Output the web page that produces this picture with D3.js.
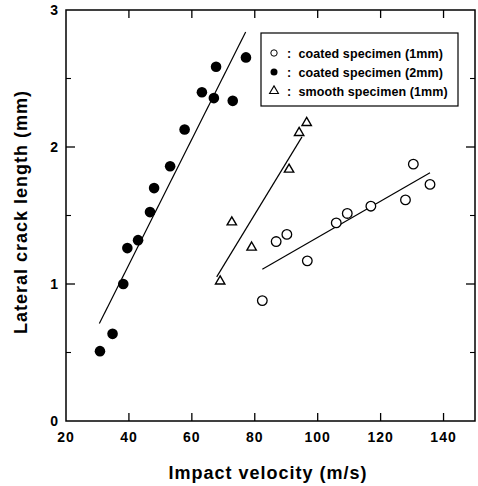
<!DOCTYPE html>
<html>
<head>
<meta charset="UTF-8" />
<title>Lateral crack length vs impact velocity</title>
<script src="https://d3js.org/d3.v7.min.js"></script>
<style>
  body { margin: 0; background: #fff; }
  svg { display: block; font-family: "Liberation Sans", Arial, sans-serif; font-weight: bold; }
</style>
</head>
<body>
<svg id="chart"></svg>
<script>
// coated specimen (2mm) - filled circles
const coated2X = [30.8, 34.8, 38.2, 39.5, 42.9, 46.7, 48.0, 53.1, 57.7, 63.2, 67.0, 67.7, 73.0, 77.2];
const coated2Y = [0.51, 0.636, 1.0, 1.262, 1.32, 1.525, 1.70, 1.86, 2.128, 2.40, 2.357, 2.586, 2.337, 2.654];
// coated specimen (1mm) - open circles
const coated1X = [82.4, 86.8, 90.2, 96.7, 105.9, 109.4, 116.9, 127.9, 130.4, 135.7];
const coated1Y = [0.879, 1.31, 1.362, 1.169, 1.446, 1.515, 1.568, 1.614, 1.875, 1.727];
// smooth specimen (1mm) - triangles
const smoothX = [69.0, 72.7, 79.0, 90.9, 94.1, 96.5];
const smoothY = [1.02, 1.451, 1.267, 1.836, 2.104, 2.177];
// fitted lines, [x0, x1] / [y0, y1]
const fit2X = [30.6, 77.1], fit2Y = [0.711, 2.84];
const fit1X = [82.4, 135.7], fit1Y = [1.108, 1.812];
const fitSX = [67.9, 95.0], fitSY = [1.052, 2.074];

const xTicks = [20, 40, 60, 80, 100, 120, 140];
const yTicks = [0, 1, 2, 3];
const yMinor = [0.5, 1.5, 2.5];
const legendLabels = [': coated specimen (1mm)', ': coated specimen (2mm)', ': smooth specimen (1mm)'];

const W = 478, H = 486;
const margin = {top: 10, right: 3, bottom: 65, left: 66};
const svg = d3.select('#chart').attr('width', W).attr('height', H);

const x = d3.scaleLinear().domain([20, 150]).range([margin.left, W - margin.right]);
const y = d3.scaleLinear().domain([0, 3]).range([H - margin.bottom, margin.top]);

const g = svg.append('g');

// frame
g.append('rect')
  .attr('x', x(20)).attr('y', y(3))
  .attr('width', x(150) - x(20)).attr('height', y(0) - y(3))
  .attr('fill', 'none').attr('stroke', '#000').attr('stroke-width', 1.5);

// x ticks (bottom and top, inward)
const xt = xTicks.filter(d => d > 20);
g.selectAll('.xtb').data(xt).join('line')
  .attr('x1', d => x(d)).attr('x2', d => x(d))
  .attr('y1', y(0)).attr('y2', y(0) - 8)
  .attr('stroke', '#000').attr('stroke-width', 1.3);
g.selectAll('.xtt').data(xt).join('line')
  .attr('x1', d => x(d)).attr('x2', d => x(d))
  .attr('y1', y(3)).attr('y2', y(3) + 8)
  .attr('stroke', '#000').attr('stroke-width', 1.3);

// y ticks (left and right)
const yt = yTicks.filter(d => d > 0 && d < 3);
[[x(20), 1], [x(150), -1]].forEach(([x0, dir]) => {
  g.selectAll(null).data(yt).join('line')
    .attr('x1', x0).attr('x2', x0 + dir * 9)
    .attr('y1', d => y(d)).attr('y2', d => y(d))
    .attr('stroke', '#000').attr('stroke-width', 1.3);
  g.selectAll(null).data(yMinor).join('line')
    .attr('x1', x0).attr('x2', x0 + dir * 5)
    .attr('y1', d => y(d)).attr('y2', d => y(d))
    .attr('stroke', '#000').attr('stroke-width', 1.1);
});

// tick labels
g.selectAll('.xl').data(xTicks).join('text')
  .attr('x', d => x(d)).attr('y', y(0) + 21)
  .attr('text-anchor', 'middle').attr('font-size', 14).attr('letter-spacing', 1)
  .text(d => d);
g.selectAll('.yl').data(yTicks).join('text')
  .attr('x', x(20) - 8).attr('y', d => y(d) + 5)
  .attr('text-anchor', 'end').attr('font-size', 14)
  .text(d => d);

// axis titles
svg.append('text')
  .attr('x', 268).attr('y', 479)
  .attr('text-anchor', 'middle').attr('font-size', 18).attr('letter-spacing', 1)
  .text('Impact velocity (m/s)');
svg.append('text')
  .attr('transform', 'translate(27,212) rotate(-90)')
  .attr('text-anchor', 'middle').attr('font-size', 18).attr('letter-spacing', 1)
  .text('Lateral crack length (mm)');

// fit lines
const line = d3.line().x(d => x(d[0])).y(d => y(d[1]));
[[fit2X, fit2Y], [fit1X, fit1Y], [fitSX, fitSY]].forEach(([fx, fy]) => {
  g.append('path')
    .attr('d', line(d3.zip(fx, fy)))
    .attr('fill', 'none').attr('stroke', '#000').attr('stroke-width', 1.2);
});

// points
g.selectAll('.c2').data(d3.zip(coated2X, coated2Y)).join('circle')
  .attr('cx', d => x(d[0])).attr('cy', d => y(d[1])).attr('r', 5.3)
  .attr('fill', '#000');
g.selectAll('.c1').data(d3.zip(coated1X, coated1Y)).join('circle')
  .attr('cx', d => x(d[0])).attr('cy', d => y(d[1])).attr('r', 4.8)
  .attr('fill', '#fff').attr('stroke', '#000').attr('stroke-width', 1.3);
const tri = d3.symbol(d3.symbolTriangle, 38);
g.selectAll('.sm').data(d3.zip(smoothX, smoothY)).join('path')
  .attr('d', tri)
  .attr('transform', d => `translate(${x(d[0])},${y(d[1])})`)
  .attr('fill', '#fff').attr('stroke', '#000').attr('stroke-width', 1.4);

// legend
const lg = svg.append('g');
lg.append('rect')
  .attr('x', 261).attr('y', 33).attr('width', 197).attr('height', 73)
  .attr('fill', '#fff').attr('stroke', '#000').attr('stroke-width', 1.2);
const rowY = [53, 72, 91];
lg.append('circle').attr('cx', 274).attr('cy', rowY[0]).attr('r', 3.2)
  .attr('fill', '#fff').attr('stroke', '#000').attr('stroke-width', 1);
lg.append('circle').attr('cx', 274).attr('cy', rowY[1]).attr('r', 3.5)
  .attr('fill', '#000');
lg.append('path').attr('d', d3.symbol(d3.symbolTriangle, 34))
  .attr('transform', `translate(274,${rowY[2]})`)
  .attr('fill', '#fff').attr('stroke', '#000').attr('stroke-width', 1.1);
lg.selectAll('.lt').data(legendLabels).join('text')
  .attr('x', 287).attr('y', (d, i) => rowY[i] + 4.5)
  .attr('font-size', 12.5).attr('letter-spacing', 0.1)
  .style('white-space', 'pre')
  .text(d => d.replace(': ', ':  '));
</script>
</body>
</html>
